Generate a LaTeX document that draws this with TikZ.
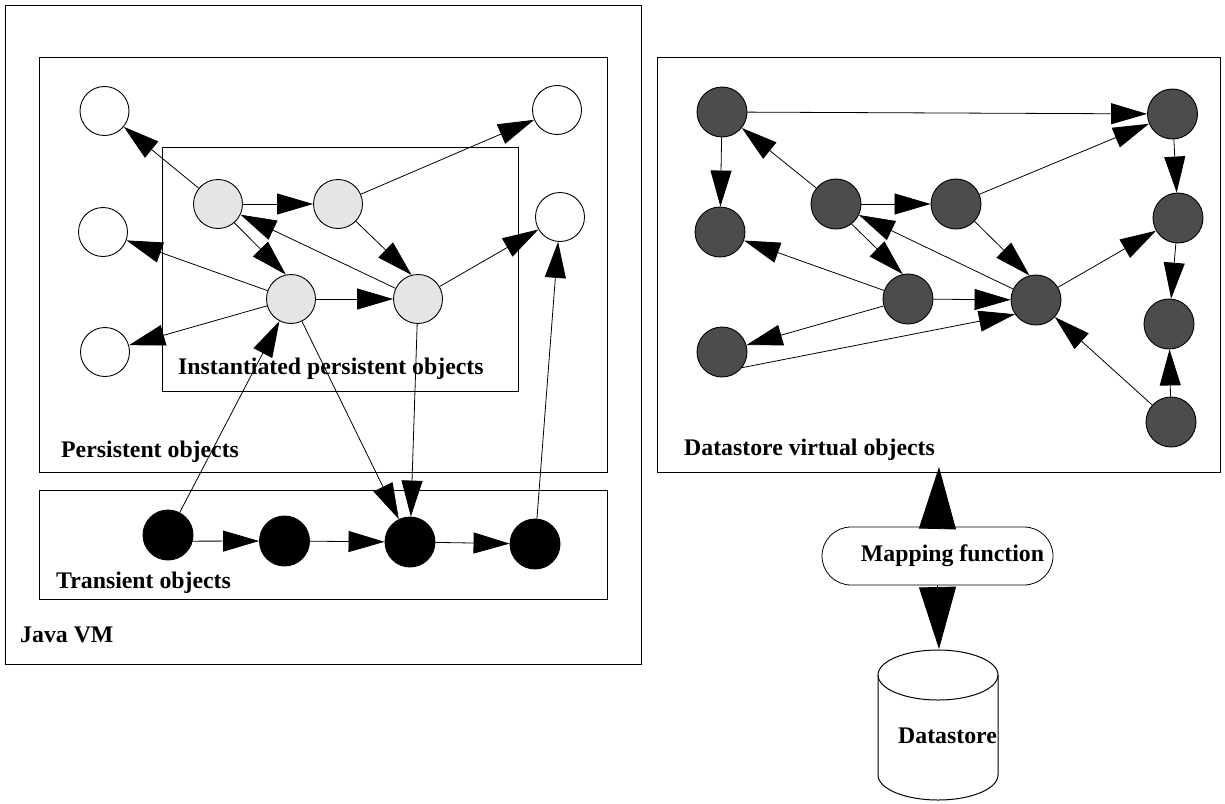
\documentclass[tikz,border=0pt]{standalone}
\usepackage{fontspec}
\setmainfont{Liberation Serif}
\usetikzlibrary{arrows.meta}

\begin{document}
\begin{tikzpicture}[x=1pt,y=-1pt,
		obj/.style={circle,draw,line width=0.9pt,minimum size=49pt,inner sep=0pt},
		free/.style={obj,fill=white},
		inst/.style={obj,fill=black!10},
		trans/.style={obj,fill=black,minimum size=50pt},
		virt/.style={obj,fill=black!70,minimum size=50pt},
		link/.style={line width=0.8pt,-{Triangle[length=36pt,width=21pt]}},
		biglink/.style={line width=0.8pt,-{Triangle[length=62pt,width=37pt]}},
		lbl/.style={font=\fontsize{23.8}{26}\selectfont\bfseries,inner sep=0pt,anchor=base west}]
				\useasboundingbox (0,0) rectangle (1225,803);
				
				\draw[line width=1pt] (5,5) rectangle (641,664);
				\draw[line width=1pt] (39,57) rectangle (607,472);
				\draw[line width=1pt] (162,147) rectangle (518,391);
				\draw[line width=1pt] (39,490) rectangle (607,599);
				\draw[line width=1pt] (657,57) rectangle (1220,472);
				
				\node[lbl] (instlabel) at (178,374) {Instantiated persistent objects};
				\node[lbl] (perslabel) at (61,457) {Persistent objects};
				\node[lbl] (translabel) at (56,588) {Transient objects};
				\node[lbl] (vmlabel) at (20,642) {Java VM};
				\node[lbl] (virtlabel) at (684,455) {Datastore virtual objects};
				
				\node[free] (w1) at (104.5,111) {};
				\node[free] (w2) at (557,110) {};
				\node[free] (w3) at (103,232) {};
				\node[free] (w4) at (560,217) {};
				\node[free] (w5) at (105,352) {};
				\node[inst] (i1) at (218,204) {};
				\node[inst] (i2) at (338,204) {};
				\node[inst] (i3) at (291,299) {};
				\node[inst] (i4) at (418,299) {};
				\node[trans] (t1) at (168,535) {};
				\node[trans] (t2) at (284.5,541) {};
				\node[trans] (t3) at (410,542) {};
				\node[trans] (t4) at (535,544) {};
				
				\draw[link] (i1) -- (w1);
				\draw[link] (i1) -- (i2);
				\draw[link] (i2) -- (w2);
				\draw[link] (i1.-49) -- (i3.102);
				\draw[link] (i4) -- (i1);
				\draw[link] (i2.-44) -- (i4.105);
				\draw[link] (i3) -- (i4);
				\draw[link] (i3) -- (w3);
				\draw[link] (i3) -- (w5);
				\draw[link] (i4) -- (w4);
				\draw[link] (t1) -- (i3);
				\draw[link] (i3) -- (t3);
				\draw[link] (i4) -- (t3);
				\draw[link] (t4) -- (w4);
				\draw[link] (t1.-14) -- (t2.west);
				\draw[link] (t2) -- (t3);
				\draw[link] (t3) -- (t4);
				
				\node[virt] (v1) at (722,112) {};
				\node[virt] (v2) at (1172.5,114) {};
				\node[virt] (v3) at (720,232) {};
				\node[virt] (v4) at (836,204) {};
				\node[virt] (v5) at (956,204) {};
				\node[virt] (v6) at (1178,218) {};
				\node[virt] (v7) at (908,299) {};
				\node[virt] (v8) at (1036,300) {};
				\node[virt] (v9) at (722,352) {};
				\node[virt] (v10) at (1169,324) {};
				\node[virt] (v11) at (1171,422) {};
				
				\draw[link] (v1) -- (v2);
				\draw[link] (v1) -- (v3);
				\draw[link] (v4) -- (v1);
				\draw[link] (v4) -- (v5);
				\draw[link] (v5) -- (v2);
				\draw[link] (v2) -- (v6);
				\draw[link] (v6) -- (v10);
				\draw[link] (v11) -- (v10);
				\draw[link] (v4.-52) -- (v7.102);
				\draw[link] (v8) -- (v4);
				\draw[link] (v5.-43) -- (v8.105);
				\draw[link] (v7) -- (v3);
				\draw[link] (v7) -- (v9);
				\draw[link] (v7) -- (v8);
				\draw[link] (v9.-38) -- (v8.-146);
				\draw[link] (v8) -- (v6);
				\draw[link] (v11) -- (v8);
				
				\node[draw,line width=0.8pt,rounded corners=29pt,minimum width=231pt,minimum height=58pt,inner sep=0pt,font=\fontsize{23.8}{26}\selectfont\bfseries] (map) at (937.5,556) {\hspace*{30pt}\raisebox{-2pt}{Mapping function}};
				
				\draw[line width=1pt] (878,675) -- (878,775) arc[start angle=180,end angle=360,x radius=60pt,y radius=25pt] -- (998,675);
				\draw[line width=1pt] (938,675) ellipse [x radius=60pt,y radius=25pt];
				\node[lbl] (store) at (898,743) {Datastore};
				
				\coordinate (vbot) at (939,467);
				\coordinate (dtop) at (939,649);
				\draw[biglink] (map.north) -- (vbot);
				\draw[biglink] (map.south) -- (dtop);
			\end{tikzpicture}
\end{document}
